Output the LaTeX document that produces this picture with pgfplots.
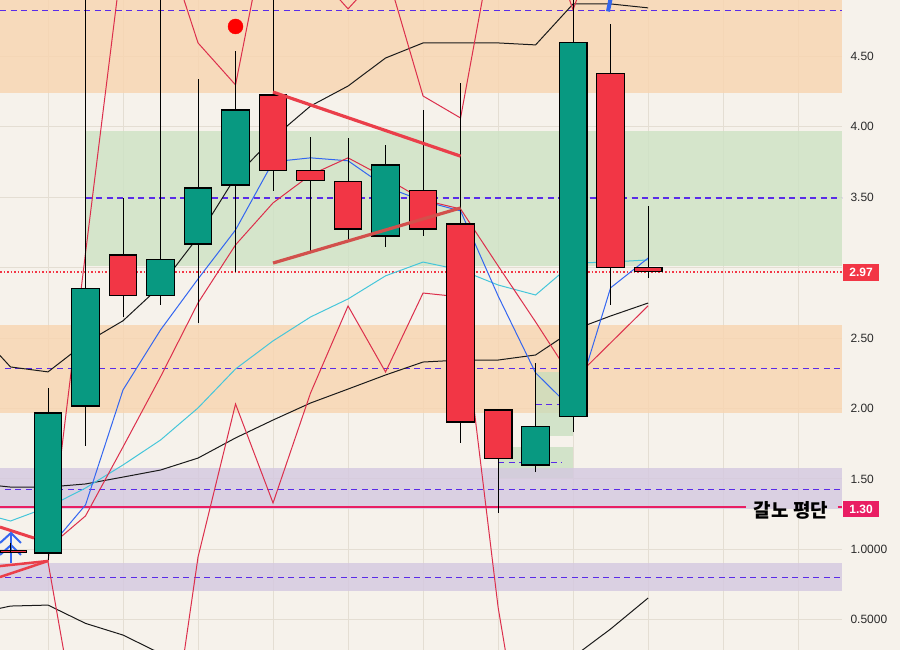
\documentclass[border=0pt]{standalone}
\usepackage{pgfplots}
\pgfplotsset{compat=1.18}
\usepackage{fontspec}
\setmainfont{Liberation Sans}
\newfontfamily\kr{Noto Sans CJK KR}
\definecolor{bgc}{HTML}{F6F2EB}
\definecolor{orangeb}{HTML}{F8D5AF}
\definecolor{greenb}{HTML}{CDE2C4}
\definecolor{purpleb}{HTML}{D4C8E0}
\definecolor{gridc}{HTML}{E4DED3}
\definecolor{dashc}{HTML}{5A2BE8}
\definecolor{cgreen}{HTML}{089981}
\definecolor{cred}{HTML}{F23645}
\definecolor{pinkc}{HTML}{E91E63}
\definecolor{blackl}{HTML}{1A1A1A}
\definecolor{bluel}{HTML}{3366F0}
\definecolor{cyanl}{HTML}{45C6DA}
\definecolor{redl}{HTML}{DC2F4C}
\definecolor{trend1}{HTML}{EA3F4A}
\definecolor{trend2}{HTML}{D2504C}
\definecolor{tickc}{HTML}{2B2B2B}
\definecolor{boxg}{HTML}{C4DEBB}
\pgfplotsset{
  gbody/.style={fill=cgreen, draw=black, line width=1.1pt},
  rbody/.style={fill=cred, draw=black, line width=1.1pt},
  band/.style={draw=none, fill opacity=0.8},
  dline/.style={dashc, line width=1.4pt, dash pattern=on 6pt off 4.5pt},
}
\begin{document}
\begin{tikzpicture}
\fill[bgc] (0,0) rectangle (900pt,650pt);
\begin{axis}[
  at={(0pt,0pt)}, anchor=south west,
  scale only axis, width=842pt, height=650pt,
  xmin=-1.28, xmax=21.17, ymin=0.285, ymax=4.901,
  axis line style={draw=none},
  tick style={draw=none},
  major tick length=0pt,
  xtick={0,2,...,20}, xticklabels={},
  ytick={0.5,1,1.5,2,2.5,3,3.5,4,4.5},
  yticklabels={0.5000,1.0000,1.50,2.00,2.50,,3.50,4.00,4.50},
  yticklabel pos=right,
  yticklabel style={anchor=west, xshift=5pt, font=\fontsize{12}{14}\selectfont, text=tickc},
  xmajorgrids, ymajorgrids,
  grid style={gridc, line width=0.9pt},
]
% ---------- zones ----------
\addplot[band, fill=orangeb] coordinates {(-1.28,4.243) (21.17,4.243) (21.17,5.1) (-1.28,5.1)} -- cycle;
\addplot[band, fill=greenb] coordinates {(1,3.013) (21.17,3.013) (21.17,3.972) (1,3.972)} -- cycle;
\addplot[band, fill=orangeb] coordinates {(-1.28,1.969) (21.17,1.969) (21.17,2.594) (-1.28,2.594)} -- cycle;
\addplot[band, fill=boxg, fill opacity=0.7] coordinates {(13,1.805) (14,1.805) (14,2.259) (13,2.259)} -- cycle;
\addplot[band, fill=boxg, fill opacity=0.7] coordinates {(11.99,1.504) (14,1.504) (14,1.726) (11.99,1.726)} -- cycle;
\addplot[band, fill=purpleb] coordinates {(-1.28,1.284) (21.17,1.284) (21.17,1.577) (-1.28,1.577)} -- cycle;
\addplot[band, fill=purpleb] coordinates {(-1.28,0.704) (21.17,0.704) (21.17,0.903) (-1.28,0.903)} -- cycle;
% ---------- levels ----------
\addplot[dline] coordinates {(-1.28,4.828) (21.17,4.828)};
\addplot[dline] coordinates {(1,3.496) (21.17,3.496)};
\addplot[dline] coordinates {(-1.15,2.286) (21.17,2.286)};
\addplot[dline] coordinates {(-1.15,1.426) (21.17,1.426)};
\addplot[dline] coordinates {(-1.15,0.801) (21.17,0.801)};
\addplot[dline, line width=1pt] coordinates {(13,2.031) (14,2.031)};
\addplot[dline, line width=1pt] coordinates {(12,1.613) (13.7,1.613)};
\addplot[cred, line width=1.3pt, dash pattern=on 1.5pt off 2pt] coordinates {(-1.28,2.970) (21.17,2.970)};
\addplot[pinkc, line width=2.2pt] coordinates {(-1.28,1.30) (18.6,1.30)};
\addplot[pinkc, line width=2.2pt] coordinates {(21.05,1.30) (21.17,1.30)};
% ---------- indicator lines ----------
\addplot[blackl, line width=1pt] coordinates {(-2,2.585) (-1,2.295) (0,2.260) (1,2.466) (2,2.623) (3,2.870) (4,3.218) (5,3.645) (6,3.921) (7,4.148) (8,4.290) (9,4.489) (10,4.596) (11,4.596) (12,4.596) (13,4.582) (14,4.873) (15,4.873) (16,4.845)};
\addplot[blackl, line width=1pt] coordinates {(-2,1.47) (-1,1.442) (0,1.442) (1,1.464) (2,1.513) (3,1.563) (4,1.648) (5,1.791) (6,1.918) (7,2.039) (8,2.138) (9,2.238) (10,2.330) (11,2.344) (12,2.344) (13,2.380) (14,2.557) (15,2.657) (16,2.749)};
\addplot[blackl, line width=1pt] coordinates {(-2,0.54) (-1,0.597) (0,0.604) (1,0.474) (2,0.391) (3,0.26) (4,0.12) (5,0.02) (6,-0.05) (7,-0.1) (8,-0.1) (9,-0.1) (10,-0.1) (11,-0.1) (12,-0.05) (13,0.05) (14,0.235) (15,0.434) (16,0.654)};
\addplot[cyanl, line width=1pt] coordinates {(-2,1.272) (-1,1.201) (0,1.300) (1,1.435) (2,1.599) (3,1.776) (4,2.004) (5,2.281) (6,2.480) (7,2.650) (8,2.778) (9,2.942) (10,3.040) (11,2.984) (12,2.877) (13,2.806) (14,3.033) (15,3.040) (16,3.055)};
\addplot[bluel, line width=1pt] coordinates {(0,1.0) (1,1.315) (2,2.132) (3,2.558) (4,2.920) (5,3.268) (6,3.752) (7,3.780) (8,3.759) (9,3.574) (10,3.474) (11,3.403) (12,2.800) (13,2.253) (14,1.990) (15,2.857) (16,3.068)};
\addplot[redl, line width=1pt] coordinates {(0,1.01) (1,1.237) (2,1.727) (3,2.225) (4,2.750) (5,3.162) (6,3.460) (7,3.659) (8,3.780) (9,3.638) (10,3.481) (11,3.417) (12,3.013) (13,2.615) (14,2.203) (15,2.466) (16,2.729)};
\addplot[redl, line width=1pt] coordinates {(0,0.910) (1,3.104) (2,5.249) (3,5.413) (4,4.596) (5,4.298) (6,5.647) (7,5.135) (8,4.838) (9,5.128) (10,4.219) (11,4.063) (12,5.512) (13,5.6) (14,4.83) (15,5.6) (16,5.5)};
\addplot[redl, line width=1pt] coordinates {(0,0.910) (1,-0.6) (2,-1.2) (3,-0.9) (4,0.945) (5,2.032) (6,1.329) (7,2.110) (8,2.728) (9,2.259) (10,2.820) (11,2.792) (12,0.590) (13,-1.0) (14,-1.0) (15,-1.0) (16,-1.0)};
% ---------- wicks ----------
\addplot[black, line width=1pt, unbounded coords=jump] coordinates {
(0,0.924) (0,2.146) (0,nan)
(1,1.734) (1,5.2) (1,nan)
(2,2.651) (2,3.495) (2,nan)
(3,2.735) (3,5.2) (3,nan)
(4,2.607) (4,4.342) (4,nan)
(5,2.969) (5,4.539) (5,nan)
(6,3.546) (6,5.2) (6,nan)
(7,3.119) (7,3.928) (7,nan)
(8,3.197) (8,3.921) (8,nan)
(9,3.147) (9,3.871) (9,nan)
(10,3.225) (10,4.120) (10,nan)
(11,1.755) (11,4.313) (11,nan)
(12,1.258) (12,1.989) (12,nan)
(13,1.549) (13,2.323) (13,nan)
(14,1.833) (14,5.2) (14,nan)
(15,2.735) (15,4.731) (15,nan)
(16,2.927) (16,3.438)};
% ---------- bodies ----------
\addplot[gbody] coordinates {(-0.37,0.974) (0.37,0.974) (0.37,1.968) (-0.37,1.968)} -- cycle;
\addplot[gbody] coordinates {(0.63,2.018) (1.37,2.018) (1.37,2.849) (0.63,2.849)} -- cycle;
\addplot[rbody] coordinates {(1.63,3.090) (2.37,3.090) (2.37,2.800) (1.63,2.800)} -- cycle;
\addplot[gbody] coordinates {(2.63,2.800) (3.37,2.800) (3.37,3.055) (2.63,3.055)} -- cycle;
\addplot[gbody] coordinates {(3.63,3.168) (4.37,3.168) (4.37,3.566) (3.63,3.566)} -- cycle;
\addplot[gbody] coordinates {(4.63,3.587) (5.37,3.587) (5.37,4.120) (4.63,4.120)} -- cycle;
\addplot[rbody] coordinates {(5.63,4.226) (6.37,4.226) (6.37,3.687) (5.63,3.687)} -- cycle;
\addplot[rbody] coordinates {(6.63,3.687) (7.37,3.687) (7.37,3.616) (6.63,3.616)} -- cycle;
\addplot[rbody] coordinates {(7.63,3.609) (8.37,3.609) (8.37,3.275) (7.63,3.275)} -- cycle;
\addplot[gbody] coordinates {(8.63,3.225) (9.37,3.225) (9.37,3.729) (8.63,3.729)} -- cycle;
\addplot[rbody] coordinates {(9.63,3.545) (10.37,3.545) (10.37,3.275) (9.63,3.275)} -- cycle;
\addplot[rbody] coordinates {(10.63,3.310) (11.37,3.310) (11.37,1.904) (10.63,1.904)} -- cycle;
\addplot[rbody] coordinates {(11.63,1.989) (12.37,1.989) (12.37,1.648) (11.63,1.648)} -- cycle;
\addplot[gbody] coordinates {(12.63,1.599) (13.37,1.599) (13.37,1.869) (12.63,1.869)} -- cycle;
\addplot[gbody] coordinates {(13.63,1.940) (14.37,1.940) (14.37,4.597) (13.63,4.597)} -- cycle;
\addplot[rbody] coordinates {(14.63,4.376) (15.37,4.376) (15.37,2.999) (14.63,2.999)} -- cycle;
\addplot[rbody] coordinates {(15.63,2.999) (16.37,2.999) (16.37,2.970) (15.63,2.970)} -- cycle;
% ---------- drawings ----------
\addplot[trend1, line width=3.2pt] coordinates {(6,4.247) (11,3.792)};
\addplot[trend2, line width=3.2pt] coordinates {(6,3.033) (11,3.424)};
\addplot[trend1, line width=3pt] coordinates {(-1.28,1.158) (-0.373,1.080)};
\addplot[trend1, line width=2.5pt] coordinates {(-1.28,0.881) (0,0.917)};
\addplot[trend1, line width=2.5pt] coordinates {(-1.28,0.803) (0,0.917)};
\addplot[bluel, line width=2pt] coordinates {(-0.987,1.116) (-0.987,0.903)};
\addplot[bluel, line width=2pt] coordinates {(-1.28,1.045) (-0.987,1.116) (-0.72,1.045)};
\addplot[bluel, line width=2pt] coordinates {(-1.28,0.96) (-0.987,1.03) (-0.72,0.96)};
\addplot[fill=cred, draw=black, line width=0.6pt] coordinates {(-1.28,0.981) (-0.587,0.981) (-0.587,0.995) (-1.28,0.995)} -- cycle;
\addplot[black, line width=1pt] coordinates {(-0.987,1.045) (-0.987,0.974)};
\addplot[bluel, line width=4pt] coordinates {(14.93,4.82) (15.0,4.91)};
\addplot[only marks, mark=*, mark size=7.5pt, color=red, fill=red] coordinates {(5,4.713)};
\node[font=\kr\bfseries\fontsize{19}{22}\selectfont, text=black] at (axis cs:19.81,1.279) {갈노 평단};
\end{axis}
\node[fill=cred, text=white, font=\bfseries\fontsize{12}{14}\selectfont, inner sep=0pt, minimum width=36pt, minimum height=17pt] at (861pt,377.5pt) {2.97};
\node[fill=pinkc, text=white, font=\bfseries\fontsize{12}{14}\selectfont, inner sep=0pt, minimum width=36pt, minimum height=16pt] at (861pt,141pt) {1.30};
\pgfresetboundingbox
\path[use as bounding box] (0,0) rectangle (900pt,650pt);
\end{tikzpicture}
\end{document}
